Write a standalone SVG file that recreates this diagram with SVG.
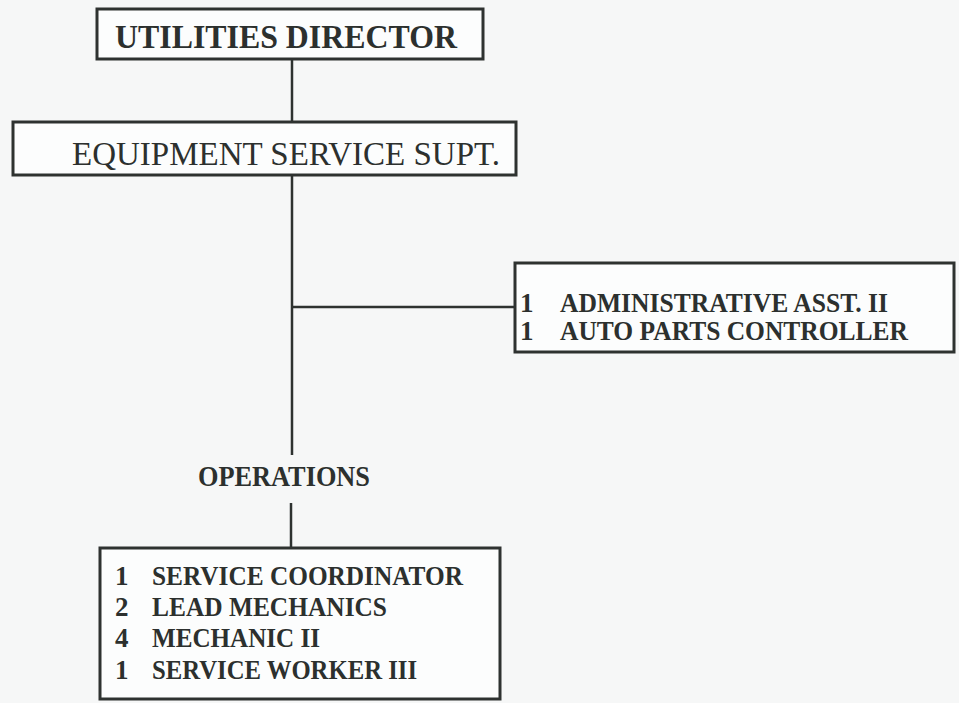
<svg xmlns="http://www.w3.org/2000/svg" width="959" height="703" viewBox="0 0 959 703" font-family="'Liberation Serif', 'DejaVu Serif', serif">
<style>
.box{fill:#fcfdfd;stroke:#2e3230;stroke-width:3}
.ln{stroke:#2e3230;stroke-width:2.5;fill:none}
text{font-family:'Liberation Serif','Times New Roman','DejaVu Serif',serif;fill:#2c302e}
.b{font-weight:bold}
</style>
<rect width="959" height="703" fill="#f6f7f7"/>
<g id="connectors">
<line class="ln" x1="292" y1="60" x2="292" y2="122"/>
<line class="ln" x1="292" y1="175" x2="292" y2="455"/>
<line class="ln" x1="292" y1="307" x2="515" y2="307"/>
<line class="ln" x1="291" y1="503" x2="291" y2="548"/>
</g>
<g id="utilities-director">
<rect class="box" x="97" y="9" width="386" height="50"/>
<text class="b" x="115" y="48" font-size="34" textLength="342" lengthAdjust="spacingAndGlyphs">UTILITIES DIRECTOR</text>
</g>
<g id="equipment-service-supt">
<rect class="box" x="13" y="122" width="503" height="53"/>
<text x="72" y="165" font-size="33" textLength="428" lengthAdjust="spacingAndGlyphs">EQUIPMENT SERVICE SUPT.</text>
</g>
<g id="admin">
<rect class="box" x="515" y="263" width="439" height="89"/>
<text class="b" x="520" y="312" font-size="27">1</text>
<text class="b" x="560" y="312" font-size="27" textLength="328" lengthAdjust="spacingAndGlyphs">ADMINISTRATIVE ASST. II</text>
<text class="b" x="520" y="340" font-size="27">1</text>
<text class="b" x="560" y="340" font-size="27" textLength="348" lengthAdjust="spacingAndGlyphs">AUTO PARTS CONTROLLER</text>
</g>
<g id="operations-label">
<text class="b" x="198" y="486" font-size="29" textLength="172" lengthAdjust="spacingAndGlyphs">OPERATIONS</text>
</g>
<g id="operations">
<rect class="box" x="100" y="548" width="400" height="151"/>
<text class="b" x="115" y="585" font-size="27">1</text>
<text class="b" x="152" y="585" font-size="27" textLength="311" lengthAdjust="spacingAndGlyphs">SERVICE COORDINATOR</text>
<text class="b" x="115" y="616" font-size="27">2</text>
<text class="b" x="152" y="616" font-size="27" textLength="235" lengthAdjust="spacingAndGlyphs">LEAD MECHANICS</text>
<text class="b" x="115" y="647" font-size="27">4</text>
<text class="b" x="152" y="647" font-size="27" textLength="168" lengthAdjust="spacingAndGlyphs">MECHANIC II</text>
<text class="b" x="115" y="679" font-size="27">1</text>
<text class="b" x="152" y="679" font-size="27" textLength="265" lengthAdjust="spacingAndGlyphs">SERVICE WORKER III</text>
</g>
</svg>
